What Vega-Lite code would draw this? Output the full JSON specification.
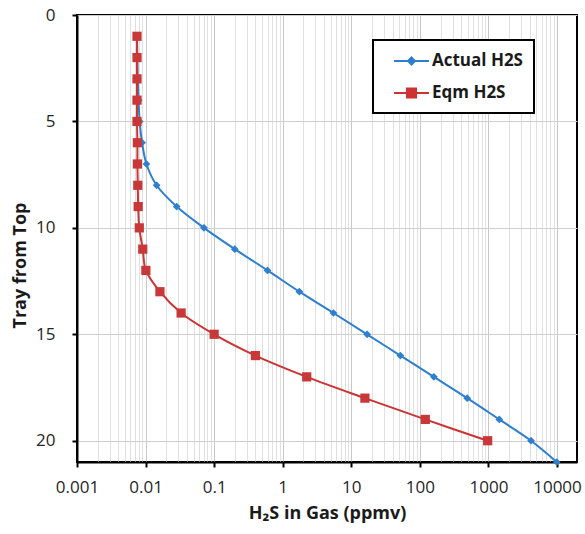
{
  "$schema": "https://vega.github.io/schema/vega-lite/v6.json",
  "width": 500,
  "height": 447,
  "autosize": {"type": "none"},
  "padding": {"left": 77, "top": 15, "right": 8, "bottom": 72},
  "config": {
    "view": {"stroke": "black", "strokeWidth": 2},
    "font": "Open Sans",
    "legend": {"strokeWidth": 2},
    "axis": {
      "domainColor": "black",
      "domainWidth": 2,
      "tickColor": "black",
      "tickWidth": 2,
      "tickSize": 5,
      "labelFont": "Open Sans",
      "labelFontSize": 17,
      "labelColor": "#262626",
      "titleFont": "Open Sans",
      "titleFontSize": 18,
      "titleFontWeight": "bold",
      "titleColor": "#1a1a1a",
      "gridWidth": 1
    }
  },
  "data": {
    "values": [
      {"tray": 1, "series": "Actual H2S", "h2s": 0.0075},
      {"tray": 2, "series": "Actual H2S", "h2s": 0.0076},
      {"tray": 3, "series": "Actual H2S", "h2s": 0.0077},
      {"tray": 4, "series": "Actual H2S", "h2s": 0.0079},
      {"tray": 5, "series": "Actual H2S", "h2s": 0.0082},
      {"tray": 6, "series": "Actual H2S", "h2s": 0.0089},
      {"tray": 7, "series": "Actual H2S", "h2s": 0.0103},
      {"tray": 8, "series": "Actual H2S", "h2s": 0.0145},
      {"tray": 9, "series": "Actual H2S", "h2s": 0.0284},
      {"tray": 10, "series": "Actual H2S", "h2s": 0.071},
      {"tray": 11, "series": "Actual H2S", "h2s": 0.2},
      {"tray": 12, "series": "Actual H2S", "h2s": 0.6},
      {"tray": 13, "series": "Actual H2S", "h2s": 1.75},
      {"tray": 14, "series": "Actual H2S", "h2s": 5.5},
      {"tray": 15, "series": "Actual H2S", "h2s": 17},
      {"tray": 16, "series": "Actual H2S", "h2s": 52},
      {"tray": 17, "series": "Actual H2S", "h2s": 160},
      {"tray": 18, "series": "Actual H2S", "h2s": 490},
      {"tray": 19, "series": "Actual H2S", "h2s": 1440},
      {"tray": 20, "series": "Actual H2S", "h2s": 4180},
      {"tray": 21, "series": "Actual H2S", "h2s": 9900},
      {"tray": 1, "series": "Eqm H2S", "h2s": 0.0075},
      {"tray": 2, "series": "Eqm H2S", "h2s": 0.0075},
      {"tray": 3, "series": "Eqm H2S", "h2s": 0.0075},
      {"tray": 4, "series": "Eqm H2S", "h2s": 0.0075},
      {"tray": 5, "series": "Eqm H2S", "h2s": 0.0075},
      {"tray": 6, "series": "Eqm H2S", "h2s": 0.0076},
      {"tray": 7, "series": "Eqm H2S", "h2s": 0.0076},
      {"tray": 8, "series": "Eqm H2S", "h2s": 0.0077},
      {"tray": 9, "series": "Eqm H2S", "h2s": 0.0078},
      {"tray": 10, "series": "Eqm H2S", "h2s": 0.0081},
      {"tray": 11, "series": "Eqm H2S", "h2s": 0.0091},
      {"tray": 12, "series": "Eqm H2S", "h2s": 0.0101},
      {"tray": 13, "series": "Eqm H2S", "h2s": 0.0162},
      {"tray": 14, "series": "Eqm H2S", "h2s": 0.033},
      {"tray": 15, "series": "Eqm H2S", "h2s": 0.1},
      {"tray": 16, "series": "Eqm H2S", "h2s": 0.4},
      {"tray": 17, "series": "Eqm H2S", "h2s": 2.24},
      {"tray": 18, "series": "Eqm H2S", "h2s": 15.8},
      {"tray": 19, "series": "Eqm H2S", "h2s": 120},
      {"tray": 20, "series": "Eqm H2S", "h2s": 975}
    ]
  },
  "encoding": {
    "x": {
      "field": "h2s",
      "type": "quantitative",
      "title": "H₂S in Gas (ppmv)",
      "scale": {"type": "log", "domain": [0.001, 19570], "nice": false},
      "axis": {
        "values": [0.001,0.002,0.003,0.004,0.005,0.006,0.007,0.008,0.009,
                   0.01,0.02,0.03,0.04,0.05,0.06,0.07,0.08,0.09,
                   0.1,0.2,0.3,0.4,0.5,0.6,0.7,0.8,0.9,
                   1,2,3,4,5,6,7,8,9,
                   10,20,30,40,50,60,70,80,90,
                   100,200,300,400,500,600,700,800,900,
                   1000,2000,3000,4000,5000,6000,7000,8000,9000,10000],
        "labelExpr": "abs(log(datum.value)/LN10 - round(log(datum.value)/LN10)) < 0.000001 ? format(datum.value, '~r') : ''",
        "labelPadding": 12,
        "labelFlush": false,
        "labelOverlap": false,
        "tickOpacity": {"condition": {"test": "abs(log(datum.value)/LN10 - round(log(datum.value)/LN10)) < 0.000001", "value": 1}, "value": 0},
        "gridColor": {"condition": {"test": "abs(log(datum.value)/LN10 - round(log(datum.value)/LN10)) < 0.000001", "value": "#c8c8c8"}, "value": "#e0e0e0"},
        "grid": true,
        "titlePadding": 9
      }
    },
    "y": {
      "field": "tray",
      "type": "quantitative",
      "title": "Tray from Top",
      "scale": {"domain": [0, 21], "reverse": true, "nice": false},
      "axis": {
        "values": [0, 5, 10, 15, 20],
        "grid": true,
        "gridColor": "#cfcfcf",
        "labelPadding": 17,
        "titlePadding": 6,
        "titleY": 250
      }
    }
  },
  "layer": [
    {
      "mark": {"type": "line", "interpolate": "catmull-rom", "strokeWidth": 2},
      "encoding": {
        "order": {"field": "tray", "type": "quantitative"},
        "color": {
          "field": "series",
          "type": "nominal",
          "scale": {"domain": ["Actual H2S", "Eqm H2S"], "range": ["#2e7fcf", "#cc3434"]},
          "legend": {
            "orient": "none",
            "legendX": 296,
            "legendY": 25,
            "title": null,
            "strokeColor": "black",
            "fillColor": "white",
            "padding": 11,
            "rowPadding": 14,
            "symbolSize": 306,
            "labelOffset": 28,
            "labelFont": "Open Sans",
            "labelFontSize": 17,
            "labelFontWeight": "bold",
            "labelColor": "#1a1a1a",
            "labelExpr": "datum.label + '\u00a0\u00a0'",
            "symbolStrokeWidth": 2,
            "encode": {
              "symbols": {
                "update": {
                  "shape": {"signal": "datum.value === 'Actual H2S' ? 'M0,0H4M2,-0.4L2.4,0L2,0.4L1.6,0Z' : 'M0,0H4M1.48,-0.52H2.52V0.52H1.48Z'"},
                  "stroke": {"signal": "datum.value === 'Actual H2S' ? '#2e7fcf' : '#cc3434'"},
                  "fill": {"signal": "datum.value === 'Actual H2S' ? '#2e7fcf' : '#cc3434'"}
                }
              }
            }
          }
        }
      }
    },
    {
      "transform": [{"filter": "datum.series === 'Actual H2S'"}],
      "mark": {"type": "point", "filled": true, "opacity": 1, "shape": "diamond", "size": 60, "color": "#2e7fcf"}
    },
    {
      "transform": [{"filter": "datum.series === 'Eqm H2S'"}],
      "mark": {"type": "point", "filled": true, "opacity": 1, "shape": "square", "size": 85, "color": "#c83838"}
    }
  ]
}
